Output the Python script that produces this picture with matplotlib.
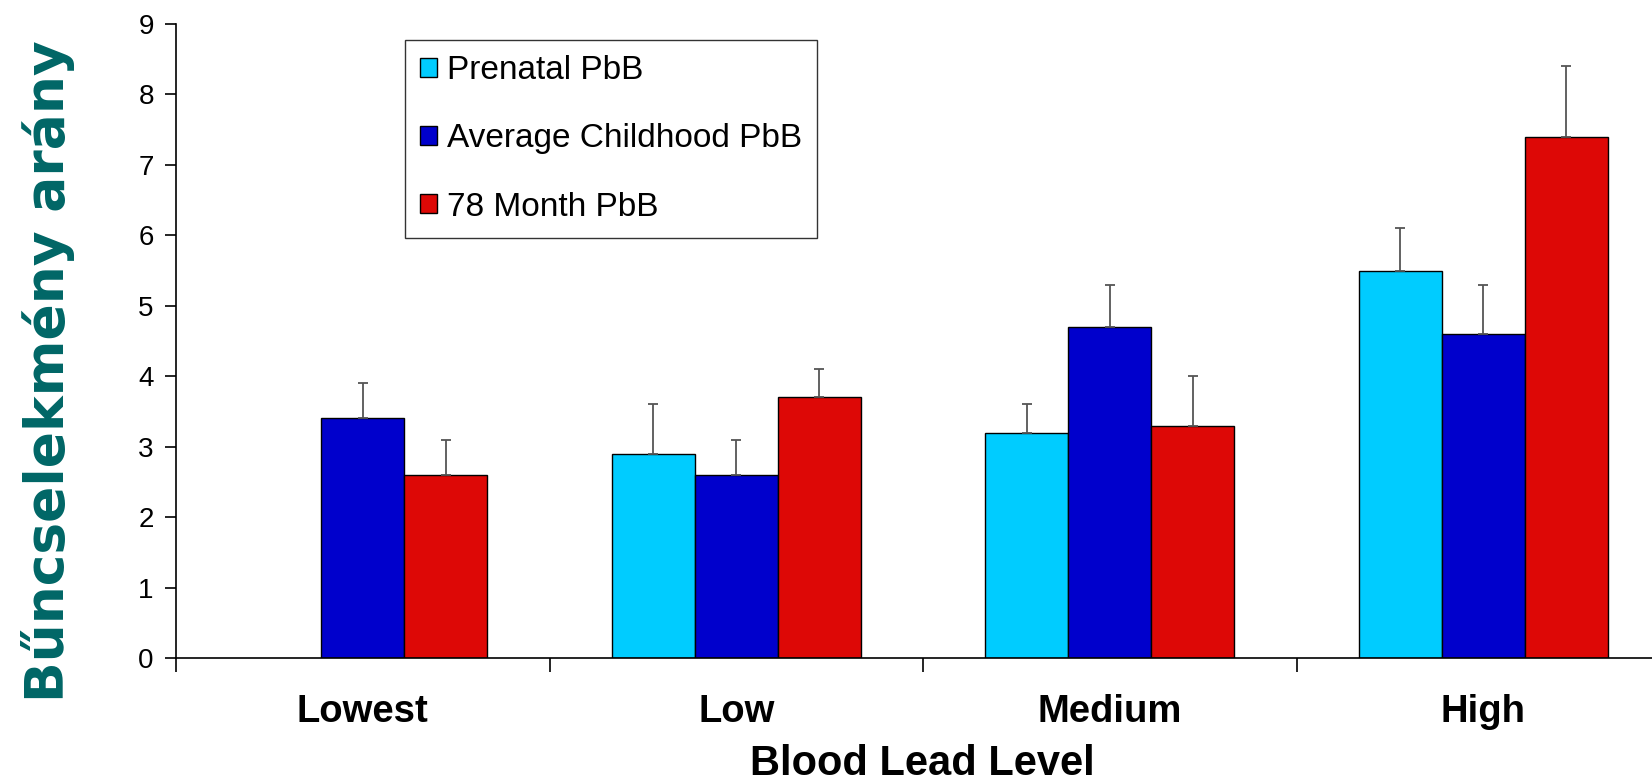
import matplotlib
matplotlib.use('Agg')
import matplotlib.pyplot as plt
import numpy as np

# Data
categories = ['Lowest', 'Low', 'Medium', 'High']
series_names = ['Prenatal PbB', 'Average Childhood PbB', '78 Month PbB']
prenatal = [np.nan, 2.9, 3.2, 5.5]
prenatal_err = [np.nan, 0.7, 0.4, 0.6]
childhood = [3.4, 2.6, 4.7, 4.6]
childhood_err = [0.5, 0.5, 0.6, 0.7]
month78 = [2.6, 3.7, 3.3, 7.4]
month78_err = [0.5, 0.4, 0.7, 1.0]

colors = ['#00CCFF', '#0000CC', '#DD0806']

fig = plt.figure(figsize=(16.52, 7.81), dpi=100)
ax = fig.add_axes([176 / 1652, 123 / 781, (1670 - 176) / 1652, 634 / 781])

x = np.arange(len(categories))
width = 2 / 9
values = [prenatal, childhood, month78]
errors = [prenatal_err, childhood_err, month78_err]

for i, (vals, errs) in enumerate(zip(values, errors)):
    pos = x + (i - 1) * width
    ax.bar(pos, vals, width, color=colors[i], edgecolor='black',
           linewidth=1, label=series_names[i], zorder=2)
    ax.errorbar(pos, vals, yerr=[np.zeros(len(errs)), errs], fmt='none',
                ecolor='#555555', elinewidth=1.3, capsize=3.5, capthick=1.3,
                zorder=3)

ax.set_xlim(-0.5, 3.5)
ax.set_ylim(0, 9)
ax.set_yticks(range(0, 10))
ax.tick_params(axis='y', direction='out', length=8, width=1.2,
               labelsize=20, pad=8)

# ticks at category boundaries, labels at centres
ax.set_xticks(np.arange(-0.5, 4.0, 1.0))
ax.set_xticklabels([])
ax.tick_params(axis='x', which='major', direction='out', length=10, width=1.2)
ax.set_xticks(x, minor=True)
ax.set_xticklabels(categories, minor=True, fontsize=27.5, fontweight='bold')
ax.tick_params(axis='x', which='minor', length=0, pad=26)

for lbl in ax.get_yticklabels() + ax.get_xticklabels(minor=True):
    lbl.set_family('Liberation Sans')

ax.spines['top'].set_visible(False)
ax.spines['right'].set_visible(False)
ax.spines['left'].set_linewidth(1.2)
ax.spines['bottom'].set_linewidth(1.2)

fig.text(922 / 1652, 1 - 764 / 781, 'Blood Lead Level', ha='center', va='center',
         fontsize=30, fontweight='bold', family='Liberation Sans')
fig.text(48 / 1652, 1 - 371 / 781, 'Bűncselekmény arány', rotation=90,
         ha='center', va='center', fontsize=38.5, fontweight='bold',
         color='#006666', family='DejaVu Sans')

leg = ax.legend(loc='upper left', bbox_to_anchor=(405 / 1652, 1 - 40 / 781),
                bbox_transform=fig.transFigure, frameon=True, fancybox=False,
                edgecolor='black', handlelength=0.5,
                handleheight=0.5, handletextpad=0.32, labelspacing=1.12,
                borderpad=0.45, borderaxespad=0,
                prop={'family': 'Liberation Sans', 'size': 24})
leg.get_frame().set_linewidth(1.0)

fig.savefig('out.png', dpi=100)
